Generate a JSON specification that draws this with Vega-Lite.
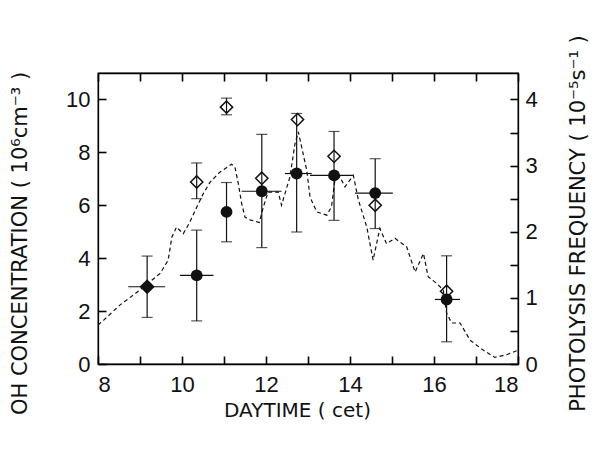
{
  "$schema": "https://vega.github.io/schema/vega-lite/v6.json",
  "width": 420,
  "height": 291,
  "autosize": {"type": "none"},
  "padding": {"left": 98, "top": 73, "right": 77, "bottom": 87},
  "background": "white",
  "config": {
    "view": {"stroke": "#111", "strokeWidth": 1.3},
    "axis": {"grid": false, "domain": true, "domainColor": "black", "domainWidth": 1.3, "ticks": true, "tickColor": "black", "tickWidth": 1.6, "labelColor": "#111", "titleColor": "#111", "labelFont": "Liberation Sans", "labelFontSize": 22, "titleFont": "DejaVu Sans", "titleFontSize": 21, "titleFontWeight": "normal"}
  },
  "datasets": {
    "phot": [
      {"t": 8.0, "j": 0.59}, {"t": 8.13, "j": 0.66}, {"t": 8.52, "j": 0.89}, {"t": 9.0, "j": 1.12}, {"t": 9.48, "j": 1.37}, {"t": 9.67, "j": 1.57}, {"t": 9.76, "j": 1.92}, {"t": 9.87, "j": 2.07}, {"t": 10.03, "j": 1.97}, {"t": 10.19, "j": 2.15}, {"t": 10.35, "j": 2.37}, {"t": 10.51, "j": 2.58}, {"t": 10.67, "j": 2.75}, {"t": 10.9, "j": 2.9}, {"t": 11.18, "j": 3.02}, {"t": 11.26, "j": 2.98}, {"t": 11.34, "j": 2.73}, {"t": 11.42, "j": 2.43}, {"t": 11.5, "j": 2.22}, {"t": 11.62, "j": 2.18}, {"t": 11.84, "j": 2.14}, {"t": 11.94, "j": 2.38}, {"t": 12.05, "j": 2.6}, {"t": 12.29, "j": 2.6}, {"t": 12.37, "j": 2.4}, {"t": 12.57, "j": 2.83}, {"t": 12.69, "j": 3.33}, {"t": 12.77, "j": 3.51}, {"t": 12.97, "j": 2.93}, {"t": 13.05, "j": 2.52}, {"t": 13.21, "j": 2.3}, {"t": 13.45, "j": 2.25}, {"t": 13.56, "j": 2.38}, {"t": 13.64, "j": 2.78}, {"t": 13.76, "j": 2.83}, {"t": 13.88, "j": 2.68}, {"t": 14.08, "j": 2.85}, {"t": 14.2, "j": 2.48}, {"t": 14.4, "j": 2.07}, {"t": 14.55, "j": 1.57}, {"t": 14.71, "j": 2.05}, {"t": 14.87, "j": 1.82}, {"t": 15.07, "j": 1.9}, {"t": 15.35, "j": 1.77}, {"t": 15.55, "j": 1.39}, {"t": 15.75, "j": 1.67}, {"t": 15.86, "j": 1.32}, {"t": 16.06, "j": 1.22}, {"t": 16.22, "j": 1.12}, {"t": 16.3, "j": 0.77}, {"t": 16.42, "j": 0.62}, {"t": 16.62, "j": 0.62}, {"t": 16.86, "j": 0.36}, {"t": 17.17, "j": 0.21}, {"t": 17.45, "j": 0.1}, {"t": 17.73, "j": 0.14}, {"t": 17.97, "j": 0.2}
    ],
    "oh": [
      {"t": 9.17, "oh": 2.92, "lo": 1.76, "hi": 4.08, "tlo": 8.72, "thi": 9.6, "kind": "both"},
      {"t": 10.35, "oh": 3.35, "lo": 1.63, "hi": 5.06, "tlo": 9.95, "thi": 10.75, "kind": "OH"},
      {"t": 11.06, "oh": 5.75, "lo": 4.62, "hi": 6.86, "kind": "OH"},
      {"t": 11.9, "oh": 6.53, "lo": 4.4, "hi": 8.68, "tlo": 11.42, "thi": 12.37, "kind": "OH"},
      {"t": 12.73, "oh": 7.2, "lo": 4.99, "hi": 9.47, "tlo": 12.45, "thi": 13.09, "kind": "OH"},
      {"t": 13.62, "oh": 7.13, "lo": 5.43, "hi": 8.79, "tlo": 13.05, "thi": 14.07, "kind": "OH"},
      {"t": 14.6, "oh": 6.46, "lo": 5.12, "hi": 7.76, "tlo": 14.12, "thi": 15.02, "kind": "OH"},
      {"t": 16.3, "oh": 2.44, "lo": 0.84, "hi": 4.09, "tlo": 16.02, "thi": 16.62, "kind": "OH"}
    ],
    "dia": [
      {"t": 10.35, "v": 6.88, "lo": 6.25, "hi": 7.6},
      {"t": 11.06, "v": 9.71, "lo": 9.42, "hi": 10.05},
      {"t": 11.9, "v": 7.02},
      {"t": 12.75, "v": 9.24},
      {"t": 13.62, "v": 7.85},
      {"t": 14.6, "v": 6.0},
      {"t": 16.3, "v": 2.75}
    ]
  },
  "resolve": {"scale": {"y": "independent"}, "axis": {"y": "independent", "x": "independent"}},
  "layer": [
    {
      "data": {"name": "phot"},
      "mark": {"type": "line", "strokeDash": [4, 3], "strokeWidth": 1.2, "color": "#111"},
      "encoding": {
        "x": {"field": "t", "type": "quantitative", "scale": {"domain": [8, 18], "nice": false},
          "axis": {"orient": "top", "values": [8, 9, 10, 11, 12, 13, 14, 15, 16, 17, 18], "labels": false, "title": null,
            "tickSize": -8, "tickColor": "black", "tickWidth": 1.6}},
        "y": {"field": "j", "type": "quantitative", "scale": {"domain": [0, 4.4], "nice": false},
          "axis": {"orient": "right", "values": [0, 0.5, 1, 1.5, 2, 2.5, 3, 3.5, 4], "tickSize": -8, "tickColor": "black", "tickWidth": 1.6,
            "labelExpr": "datum.value % 1 === 0 ? format(datum.value, 'd') : ''",
            "labelPadding": 15, "labelBaseline": "middle",
            "title": "PHOTOLYSIS   FREQUENCY    ( 10⁻⁵s⁻¹ )", "titleAngle": 270, "titleX": 60, "titleY": 150, "titleAlign": "center", "titleBaseline": "middle"}}
      }
    },
    {
      "layer": [
        {
          "data": {"name": "dia"},
          "mark": {"type": "rule", "color": "#111", "strokeWidth": 1.2},
          "encoding": {
            "x": {"field": "t", "type": "quantitative"},
            "y": {"field": "lo", "type": "quantitative"},
            "y2": {"field": "hi"}
          }
        },
        {
          "data": {"name": "dia"},
          "mark": {"type": "tick", "orient": "horizontal", "color": "#111", "size": 11, "thickness": 1.2},
          "encoding": {
            "x": {"field": "t", "type": "quantitative"},
            "y": {"field": "lo", "type": "quantitative"}
          }
        },
        {
          "data": {"name": "dia"},
          "mark": {"type": "tick", "orient": "horizontal", "color": "#111", "size": 11, "thickness": 1.2},
          "encoding": {
            "x": {"field": "t", "type": "quantitative"},
            "y": {"field": "hi", "type": "quantitative"}
          }
        },
        {
          "data": {"name": "oh"},
          "mark": {"type": "rule", "color": "#111", "strokeWidth": 1.2},
          "encoding": {
            "x": {"field": "tlo", "type": "quantitative"},
            "x2": {"field": "thi"},
            "y": {"field": "oh", "type": "quantitative"}
          }
        },
        {
          "data": {"name": "oh"},
          "mark": {"type": "rule", "color": "#111", "strokeWidth": 1.2},
          "encoding": {
            "x": {"field": "t", "type": "quantitative"},
            "y": {"field": "lo", "type": "quantitative"},
            "y2": {"field": "hi"}
          }
        },
        {
          "data": {"name": "oh"},
          "mark": {"type": "tick", "orient": "horizontal", "color": "#111", "size": 11, "thickness": 1.2},
          "encoding": {
            "x": {"field": "t", "type": "quantitative"},
            "y": {"field": "lo", "type": "quantitative"}
          }
        },
        {
          "data": {"name": "oh"},
          "mark": {"type": "tick", "orient": "horizontal", "color": "#111", "size": 11, "thickness": 1.2},
          "encoding": {
            "x": {"field": "t", "type": "quantitative"},
            "y": {"field": "hi", "type": "quantitative"}
          }
        },
        {
          "data": {"name": "dia"},
          "mark": {"type": "point", "shape": "diamond", "filled": false, "color": "#111", "strokeWidth": 1.5, "size": 150, "opacity": 1},
          "encoding": {
            "x": {"field": "t", "type": "quantitative"},
            "y": {"field": "v", "type": "quantitative"}
          }
        },
        {
          "data": {"name": "oh"},
          "mark": {"type": "point", "filled": true, "color": "#111", "opacity": 1},
          "encoding": {
            "x": {"field": "t", "type": "quantitative",
              "axis": {"orient": "bottom", "values": [8, 9, 10, 11, 12, 13, 14, 15, 16, 17, 18], "tickSize": -8, "tickColor": "black", "tickWidth": 1.6,
                "labelExpr": "datum.value % 2 === 0 ? datum.label : ''",
                "labelPadding": 18, "labelBaseline": "top",
                "title": "DAYTIME   ( cet)", "titleFontSize": 20, "titleX": 199, "titleY": 46, "titleAlign": "center", "titleBaseline": "middle"}},
            "y": {"field": "oh", "type": "quantitative", "scale": {"domain": [0, 11], "nice": false},
              "axis": {"orient": "left", "values": [0, 1, 2, 3, 4, 5, 6, 7, 8, 9, 10],
                "tickSize": -8, "tickColor": "black", "tickWidth": 1.6,
                "labelExpr": "datum.value % 2 === 0 ? datum.label : ''",
                "labelPadding": 16, "labelBaseline": "middle",
                "title": "OH  CONCENTRATION   ( 10⁶cm⁻³ )", "titleAngle": 270, "titleX": -78, "titleY": 170, "titleAlign": "center", "titleBaseline": "middle"}},
            "shape": {"field": "kind", "type": "nominal", "scale": {"domain": ["both", "OH"], "range": ["diamond", "circle"]}, "legend": null},
            "size": {"field": "kind", "type": "nominal", "scale": {"domain": ["both", "OH"], "range": [230, 140]}, "legend": null}
          }
        }
      ]
    }
  ]
}
